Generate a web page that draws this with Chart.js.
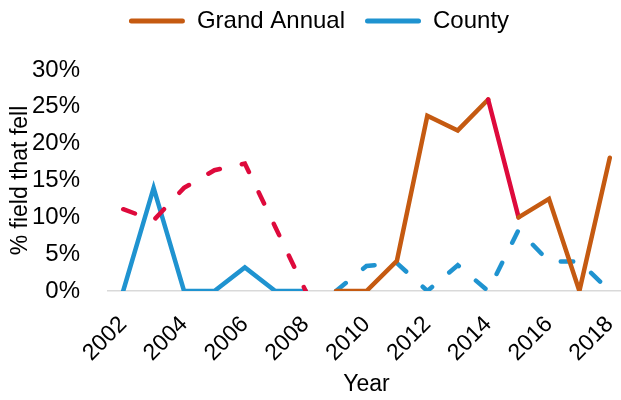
<!DOCTYPE html>
<html>
<head>
<meta charset="utf-8">
<script src="https://cdn.jsdelivr.net/npm/chart.js@4/dist/chart.umd.min.js"></script>
<style>
  html, body { margin: 0; padding: 0; overflow: hidden; background: #ffffff; }
  canvas { display: block; }
</style>
</head>
<body>
<canvas id="c" width="630" height="400"></canvas>
<script>
// ---- data ----
const years = [2002, 2003, 2004, 2005, 2006, 2007, 2008, 2009, 2010, 2011, 2012, 2013, 2014, 2015, 2016, 2017, 2018];
const grandAnnual = [11.1, 9.6, 14.0, 16.4, 17.3, 8.7, 0, 0, 0, 4.1, 23.8, 21.8, 26.0, 10.0, 12.5, 0, 18.1];
const county = [0, 14.0, 0, 0, 3.2, 0, 0, 0, 3.4, 3.8, 0, 3.5, 0, 8.3, 4.0, 4.0, 0];
const xTickLabels = ['2002', '2004', '2006', '2008', '2010', '2012', '2014', '2016', '2018'];
const yTickValues = [0, 5, 10, 15, 20, 25, 30];
const seriesNames = ['Grand Annual', 'County'];

// ---- styling ----
const BROWN = '#C55A11';
const RED = '#DE0A3C';
const BLUE = '#1F93D0';
const CLEAR = 'rgba(0,0,0,0)';
const DASH = [12.5, 22.5];
const FONT = "'Liberation Sans', Arial, sans-serif";

Chart.defaults.font.family = FONT;
Chart.defaults.color = '#000000';

const breakAfter = 2008;          // no line between 2008 and 2009
const gaDashedUntil = 2008;       // Grand Annual dashed (red) before this year
const gaRedSegmentsFrom = [2014]; // solid red segments (start year)
const countyDashedFrom = 2009;    // County dashed from this year

function yr(ctx) { return years[ctx.p0DataIndex]; }

const chart = new Chart(document.getElementById('c'), {
  type: 'line',
  data: {
    labels: years.map(String),
    datasets: [
      {
        label: seriesNames[0],
        data: grandAnnual,
        borderColor: BROWN,
        backgroundColor: BROWN,
        borderWidth: 4.5,
        borderCapStyle: 'round',
        borderJoinStyle: 'miter',
        pointRadius: 0,
        pointHoverRadius: 0,
        tension: 0,
        fill: false,
        segment: {
          borderColor: ctx => {
            const y = yr(ctx);
            if (y === breakAfter) return CLEAR;
            if (y < gaDashedUntil) return RED;
            if (gaRedSegmentsFrom.includes(y)) return RED;
            return BROWN;
          },
          borderDash: ctx => (yr(ctx) < gaDashedUntil ? DASH : undefined)
        }
      },
      {
        label: seriesNames[1],
        data: county,
        borderColor: BLUE,
        backgroundColor: BLUE,
        borderWidth: 4.5,
        borderCapStyle: 'round',
        borderJoinStyle: 'miter',
        pointRadius: 0,
        pointHoverRadius: 0,
        tension: 0,
        fill: false,
        segment: {
          borderColor: ctx => (yr(ctx) === breakAfter ? CLEAR : BLUE),
          borderDash: ctx => (yr(ctx) >= countyDashedFrom ? DASH : undefined)
        }
      }
    ]
  },
  options: {
    responsive: false,
    animation: false,
    events: [],
    layout: { padding: { top: -11, right: 5, bottom: 0, left: 13 } },
    plugins: {
      tooltip: { enabled: false },
      legend: {
        position: 'top',
        labels: {
          boxWidth: 56,
          boxHeight: 5,
          padding: 20,
          color: '#000000',
          font: { size: 24, family: FONT },
          generateLabels: (ch) => ch.data.datasets.map((ds, i) => ({
            text: ds.label,
            fillStyle: ds.borderColor,
            strokeStyle: ds.borderColor,
            lineWidth: 0,
            borderRadius: 2.5,
            fontColor: '#000000',
            hidden: false,
            datasetIndex: i
          }))
        }
      },
      subtitle: {
        display: true,
        text: '',
        weight: 500,
        position: 'top',
        font: { size: 1 },
        padding: { top: 0, bottom: 25.8 }
      }
    },
    scales: {
      x: {
        type: 'category',
        offset: true,
        grid: { display: false },
        border: { display: true, color: '#D9D9D9', width: 1.5 },
        ticks: {
          autoSkip: false,
          minRotation: 45,
          maxRotation: 45,
          padding: 12,
          color: '#000000',
          font: { size: 23, family: FONT },
          callback: function (value, index) {
            const lbl = this.getLabelForValue(value);
            return xTickLabels.includes(lbl) ? lbl : '';
          }
        },
        title: {
          display: true,
          text: 'Year',
          color: '#000000',
          font: { size: 23, family: FONT },
          padding: { top: 0, bottom: 2 }
        },
        afterFit: (s) => { s.height = 109; s.paddingLeft = 0; s.paddingRight = 0; }
      },
      y: {
        min: 0,
        max: 30,
        grid: { display: false },
        border: { display: false },
        afterBuildTicks: (s) => { s.ticks = yTickValues.map(v => ({ value: v })); },
        ticks: {
          padding: 20,
          color: '#000000',
          font: { size: 24, family: FONT },
          callback: (v) => v + '%'
        },
        title: {
          display: true,
          text: '% field that fell',
          color: '#000000',
          font: { size: 23, family: FONT },
          padding: { top: -6, bottom: 0 }
        },
        afterFit: (s) => { s.width = 95; }
      }
    }
  }
});
</script>
</body>
</html>
